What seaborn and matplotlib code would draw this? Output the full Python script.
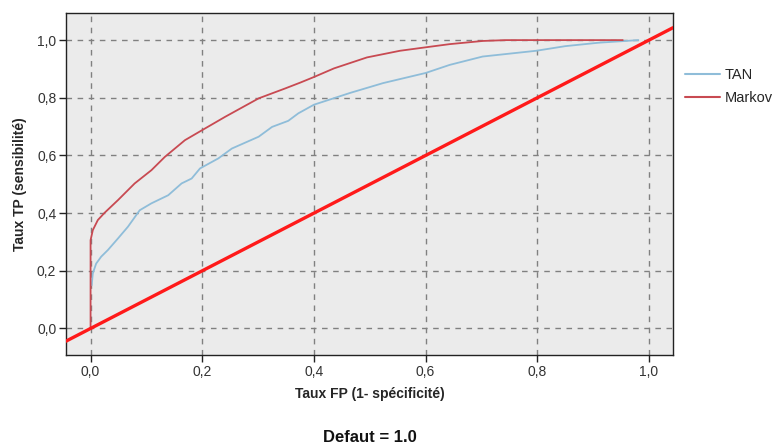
import matplotlib
matplotlib.use("Agg")
import matplotlib.pyplot as plt
import seaborn as sns
import pandas as pd
from matplotlib.ticker import FixedLocator, FuncFormatter
from matplotlib.lines import Line2D

# ---- data ----
markov_fpr = [0.0, 0.0, 0.004, 0.013, 0.025, 0.049, 0.079, 0.109, 0.133, 0.169, 0.2,
              0.241, 0.301, 0.348, 0.376, 0.4, 0.436, 0.495, 0.554, 0.6, 0.643,
              0.702, 0.744, 0.953]
markov_tpr = [0.0, 0.306, 0.341, 0.376, 0.401, 0.445, 0.503, 0.549, 0.595, 0.653, 0.688,
              0.734, 0.798, 0.832, 0.853, 0.872, 0.902, 0.940, 0.963, 0.975, 0.986,
              0.997, 1.0, 1.0]

tan_fpr = [0.002, 0.004, 0.010, 0.019, 0.031, 0.049, 0.067, 0.088, 0.109, 0.139, 0.163,
           0.181, 0.196, 0.229, 0.253, 0.301, 0.325, 0.354, 0.372, 0.4, 0.465, 0.524,
           0.6, 0.643, 0.702, 0.798, 0.85, 0.91, 0.981]
tan_tpr = [0.150, 0.191, 0.225, 0.249, 0.272, 0.312, 0.353, 0.410, 0.434, 0.462, 0.503,
           0.520, 0.555, 0.590, 0.624, 0.665, 0.699, 0.720, 0.746, 0.776, 0.817, 0.851,
           0.886, 0.914, 0.943, 0.963, 0.979, 0.991, 1.0]

series_names = ["TAN", "Markov"]
tick_values = [0.0, 0.2, 0.4, 0.6, 0.8, 1.0]

df = pd.concat([
    pd.DataFrame({"fpr": tan_fpr, "tpr": tan_tpr, "model": "TAN"}),
    pd.DataFrame({"fpr": markov_fpr, "tpr": markov_tpr, "model": "Markov"}),
], ignore_index=True)

sns.set_theme(style="ticks")
plt.rcParams["font.family"] = ["Liberation Sans", "DejaVu Sans"]

fig = plt.figure(figsize=(7.84, 4.47), dpi=100)
ax = fig.add_axes([66 / 784, 1 - 355 / 447, (673 - 66) / 784, (355 - 13) / 447])
ax.set_facecolor("#EBEBEB")

palette = {"TAN": "#8FBDD9", "Markov": "#C84A52"}
sns.lineplot(data=df, x="fpr", y="tpr", hue="model", hue_order=series_names,
             palette=palette, sort=False, estimator=None, linewidth=1.3,
             ax=ax, legend=False, zorder=3)

ax.axline((0, 0), slope=1, color="#FF1A1A", linewidth=2.4, zorder=4)

ax.set_xlim(-0.044, 1.043)
ax.set_ylim(-0.092, 1.094)

fmt = FuncFormatter(lambda v, p: f"{v:.1f}".replace(".", ","))
ax.xaxis.set_major_locator(FixedLocator(tick_values))
ax.yaxis.set_major_locator(FixedLocator(tick_values))
ax.xaxis.set_major_formatter(fmt)
ax.yaxis.set_major_formatter(fmt)

ax.grid(True, color="#808080", linestyle=(0, (4, 4)), linewidth=1.0, zorder=1)
ax.set_axisbelow(True)
for s in ax.spines.values():
    s.set_visible(True)
    s.set_color("#222222")
    s.set_linewidth(1.0)
ax.tick_params(axis="both", direction="out", length=5, width=1, color="#222222",
               labelsize=10, labelcolor="#333333", pad=2)

ax.set_xlabel("Taux FP (1- spécificité)", fontsize=10, fontweight="bold", labelpad=6)
ax.set_ylabel("Taux TP (sensibilité)", fontsize=10, fontweight="bold", labelpad=7)

handles = [Line2D([], [], color=palette[n], linewidth=1.5) for n in series_names]
ax.legend(handles, series_names, loc="upper left", bbox_to_anchor=(1.01, 0.855),
          frameon=False, fontsize=10.5, handlelength=2.4, handletextpad=0.3,
          labelspacing=0.6, borderaxespad=0)

fig.text((66 + 673) / 2 / 784, 1 - 437 / 447, "Defaut = 1.0", ha="center", va="center",
         fontsize=12, fontweight="bold", color="#111111")

fig.savefig("out.png", dpi=100)
